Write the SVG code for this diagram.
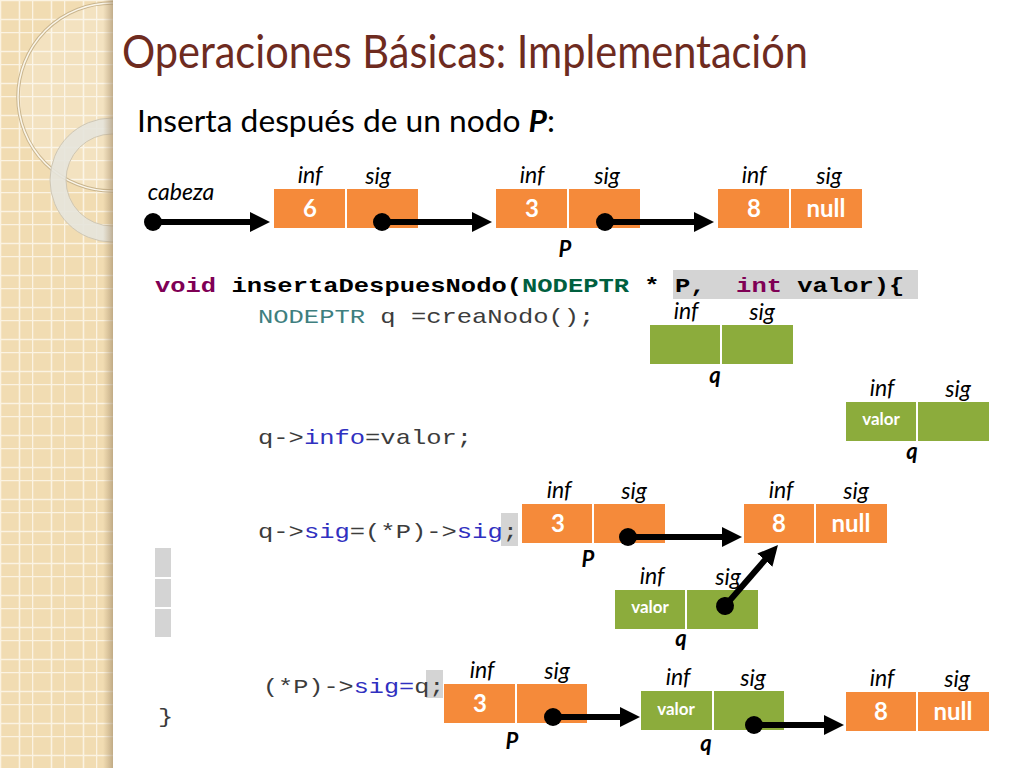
<svg xmlns="http://www.w3.org/2000/svg" width="1024" height="768" viewBox="0 0 1024 768">
<defs>
  <pattern id="grid" width="32" height="32" patternUnits="userSpaceOnUse">
    <rect width="32" height="32" fill="#f1dcb2"/>
    <path d="M0.5,0 V32 M19.5,0 V32 M0,0.5 H32 M0,19.5 H32" stroke="#fbf3e2" stroke-width="1.6"/>
  </pattern>
  <linearGradient id="shade" x1="0" y1="0" x2="1" y2="0">
    <stop offset="0" stop-color="#b09670" stop-opacity="0"/>
    <stop offset="1" stop-color="#a08a68" stop-opacity="0.6"/>
  </linearGradient>
  <clipPath id="panel"><rect x="0" y="0" width="113" height="768"/></clipPath>
  <marker id="head" viewBox="0 0 20 20" refX="8" refY="10" markerWidth="20" markerHeight="20" markerUnits="userSpaceOnUse" orient="auto">
    <path d="M0,0 L20,10 L0,20 z" fill="#000"/>
  </marker>
  <marker id="dot" viewBox="0 0 20 20" refX="10" refY="10" markerWidth="20" markerHeight="20" markerUnits="userSpaceOnUse" orient="auto">
    <circle cx="10" cy="10" r="9" fill="#000"/>
  </marker>
</defs>
<style>
  .or { fill: #f58a3a; }
  .gr { fill: #8cac3c; }
  .div { stroke: #ffffff; stroke-width: 2; }
  .lbl { font-family: Lato, "Open Sans", sans-serif; font-style: italic; font-size: 23px; fill: #000; text-anchor: middle; }
  .val { font-family: Lato, "Open Sans", sans-serif; font-weight: bold; font-size: 24px; fill: #fff; text-anchor: middle; }
  .vsm { font-family: Lato, "Open Sans", sans-serif; font-weight: bold; font-size: 17px; fill: #fff; text-anchor: middle; }
  .ptr { font-family: Lato, "Open Sans", sans-serif; font-weight: bold; font-style: italic; font-size: 22px; fill: #000; text-anchor: middle; }
  .code { font-family: "Liberation Mono", "Courier New", monospace; font-size: 21px; fill: #3c3c3c; }
  .codeb { font-family: "Liberation Mono", "Courier New", monospace; font-size: 21px; font-weight: bold; fill: #000; }
  .kw { fill: #7f0055; }
  .ty { fill: #005f3f; }
  .tyn { fill: #3f7f7f; }
  .fld { fill: #3030c0; }
  .hl { fill: #d4d4d4; }
  .conn { stroke: #000; stroke-width: 6; fill: none; marker-start: url(#dot); marker-end: url(#head); }
</style>

<rect width="1024" height="768" fill="#ffffff"/>

<g id="sidebar">
  <rect x="0" y="0" width="113" height="768" fill="url(#grid)"/>
  <g clip-path="url(#panel)">
    <circle cx="112" cy="97" r="94" fill="#ffffff" fill-opacity="0.18" stroke="#c9b58e" stroke-width="3.5"/>
    <circle cx="112" cy="97" r="94" fill="none" stroke="#fbf6ea" stroke-width="1.5"/>
    <circle cx="112" cy="180" r="54" fill="none" stroke="#e6e4dc" stroke-opacity="0.9" stroke-width="16"/>
    <circle cx="112" cy="180" r="62" fill="none" stroke="#cfc7b4" stroke-width="1"/>
    <circle cx="112" cy="180" r="46" fill="none" stroke="#cfc7b4" stroke-width="1"/>
  </g>
  <rect x="103" y="0" width="10" height="768" fill="url(#shade)"/>
</g>

<g id="title">
  <text x="122" y="68" font-family="Lato, 'Open Sans', sans-serif" font-size="46" fill="#6e2b1f" textLength="686" lengthAdjust="spacingAndGlyphs">Operaciones Básicas: Implementación</text>
</g>
<g id="subtitle">
  <text x="137" y="132" font-family="Lato, 'Open Sans', sans-serif" font-size="30" fill="#000" textLength="418" lengthAdjust="spacingAndGlyphs">Inserta después de un nodo <tspan font-weight="bold" font-style="italic">P</tspan>:</text>
</g>

<!-- Row 1 -->
<g id="cabeza">
  <text x="181" y="200" class="lbl">cabeza</text>
</g>
<g id="n1">
  <rect x="274" y="189" width="144" height="39" class="or"/>
  <line x1="346" y1="189" x2="346" y2="228" class="div"/>
  <text x="310" y="217" class="val">6</text>
  <text x="310" y="183" class="lbl">inf</text>
  <text x="378" y="184" class="lbl">sig</text>
</g>
<g id="n2">
  <rect x="496" y="189" width="144" height="39" class="or"/>
  <line x1="568" y1="189" x2="568" y2="228" class="div"/>
  <text x="532" y="217" class="val">3</text>
  <text x="532" y="183" class="lbl">inf</text>
  <text x="607" y="184" class="lbl">sig</text>
  <text x="565" y="257" class="ptr">P</text>
</g>
<g id="n3">
  <rect x="718" y="189" width="144" height="39" class="or"/>
  <line x1="790" y1="189" x2="790" y2="228" class="div"/>
  <text x="754" y="217" class="val">8</text>
  <text x="826" y="217" class="val">null</text>
  <text x="754" y="183" class="lbl">inf</text>
  <text x="829" y="184" class="lbl">sig</text>
</g>

<!-- Code -->
<g id="code">
  <rect x="673" y="270" width="245" height="29" class="hl"/>
  <g transform="translate(155,292) scale(1.214,1)">
    <text x="0" y="0" class="codeb"><tspan class="kw">void</tspan> insertaDespuesNodo(<tspan class="ty">NODEPTR</tspan> * P,&#160; <tspan class="kw">int</tspan> valor){</text>
  </g>
  <g transform="translate(258,323) scale(1.214,1)">
    <text x="0" y="0" class="code"><tspan class="tyn">NODEPTR</tspan> q =creaNodo();</text>
  </g>
  <g transform="translate(258,444) scale(1.214,1)">
    <text x="0" y="0" class="code">q-&gt;<tspan class="fld">info</tspan>=valor;</text>
  </g>
  <rect x="501" y="513" width="17" height="33" class="hl"/>
  <g transform="translate(258,538) scale(1.214,1)">
    <text x="0" y="0" class="code">q-&gt;<tspan class="fld">sig</tspan>=(*P)-&gt;<tspan class="fld">sig</tspan>;</text>
  </g>
  <rect x="155" y="548" width="16" height="29" class="hl"/>
  <rect x="155" y="579" width="16" height="28" class="hl"/>
  <rect x="155" y="609" width="16" height="28" class="hl"/>
  <rect x="426" y="670" width="17" height="28" class="hl"/>
  <g transform="translate(263,693) scale(1.2,1)">
    <text x="0" y="0" class="code">(*P)-&gt;<tspan class="fld">sig=</tspan>q;</text>
  </g>
  <g transform="translate(158,723) scale(1.214,1)">
    <text x="0" y="0" class="code">}</text>
  </g>
</g>

<!-- Step: creaNodo -->
<g id="q1">
  <rect x="650" y="325" width="143" height="39" class="gr"/>
  <line x1="721" y1="325" x2="721" y2="364" class="div"/>
  <text x="686" y="319" class="lbl">inf</text>
  <text x="762" y="320" class="lbl">sig</text>
  <text x="715" y="383" class="ptr">q</text>
</g>

<!-- Step: info -->
<g id="q2">
  <rect x="846" y="402" width="143" height="39" class="gr"/>
  <line x1="917" y1="402" x2="917" y2="441" class="div"/>
  <text x="881" y="425" class="vsm">valor</text>
  <text x="882" y="396" class="lbl">inf</text>
  <text x="958" y="397" class="lbl">sig</text>
  <text x="912" y="459" class="ptr">q</text>
</g>

<!-- Step: q->sig -->
<g id="p3">
  <rect x="522" y="504" width="143" height="39" class="or"/>
  <line x1="593" y1="504" x2="593" y2="543" class="div"/>
  <text x="558" y="532" class="val">3</text>
  <text x="559" y="498" class="lbl">inf</text>
  <text x="634" y="499" class="lbl">sig</text>
  <text x="588" y="567" class="ptr">P</text>
</g>
<g id="e3">
  <rect x="744" y="504" width="143" height="39" class="or"/>
  <line x1="815" y1="504" x2="815" y2="543" class="div"/>
  <text x="779" y="532" class="val">8</text>
  <text x="851" y="532" class="val">null</text>
  <text x="781" y="498" class="lbl">inf</text>
  <text x="856" y="499" class="lbl">sig</text>
</g>
<g id="q3">
  <rect x="615" y="590" width="143" height="39" class="gr"/>
  <line x1="686" y1="590" x2="686" y2="629" class="div"/>
  <text x="650" y="613" class="vsm">valor</text>
  <text x="652" y="584" class="lbl">inf</text>
  <text x="728" y="585" class="lbl">sig</text>
  <text x="681" y="646" class="ptr">q</text>
</g>

<!-- Step: (*P)->sig=q -->
<g id="p4">
  <rect x="444" y="684" width="143" height="39" class="or"/>
  <line x1="516" y1="684" x2="516" y2="723" class="div"/>
  <text x="480" y="712" class="val">3</text>
  <text x="482" y="678" class="lbl">inf</text>
  <text x="557" y="679" class="lbl">sig</text>
  <text x="512" y="749" class="ptr">P</text>
</g>
<g id="q4">
  <rect x="641" y="691" width="143" height="39" class="gr"/>
  <line x1="713" y1="691" x2="713" y2="730" class="div"/>
  <text x="676" y="715" class="vsm">valor</text>
  <text x="678" y="685" class="lbl">inf</text>
  <text x="753" y="686" class="lbl">sig</text>
  <text x="706" y="751" class="ptr">q</text>
</g>
<g id="e4">
  <rect x="846" y="692" width="143" height="39" class="or"/>
  <line x1="917" y1="692" x2="917" y2="731" class="div"/>
  <text x="881" y="720" class="val">8</text>
  <text x="953" y="720" class="val">null</text>
  <text x="882" y="686" class="lbl">inf</text>
  <text x="957" y="687" class="lbl">sig</text>
</g>

<g id="connectors">
  <path d="M153,222 L258,222" class="conn"/>
  <path d="M382,222 L480,222" class="conn"/>
  <path d="M605,222 L702,222" class="conn"/>
  <path d="M628,537 L730,537" class="conn"/>
  <path d="M725,606 L770.1,554.1" class="conn"/>
  <path d="M553,717 L628,717" class="conn"/>
  <path d="M754,725 L832,725" class="conn"/>
</g>
</svg>
